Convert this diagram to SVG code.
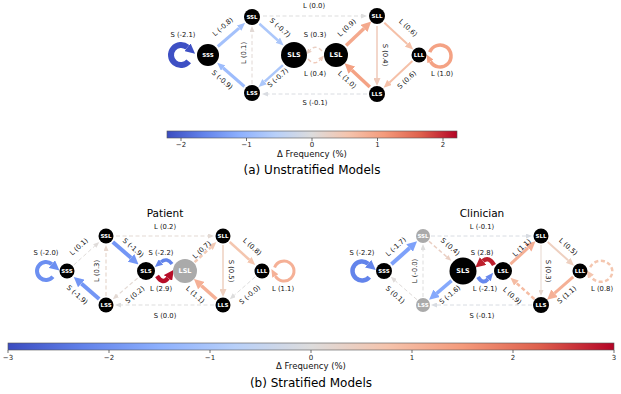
<svg xmlns="http://www.w3.org/2000/svg" width="621" height="394" viewBox="0 0 621 394">
<style>
.lbl{font-family:"DejaVu Sans",sans-serif;font-size:6.8px;fill:#111;text-anchor:middle;dominant-baseline:central}
.nl{font-family:"DejaVu Sans",sans-serif;font-weight:bold;font-size:5.5px;fill:#fff;text-anchor:middle;dominant-baseline:central}
.nlb{font-size:6.5px}
.e{fill:none}
.d{stroke-dasharray:4 2.5}
.tk{stroke:#333;stroke-width:0.7}
.tl{font-family:"DejaVu Sans",sans-serif;font-size:7px;fill:#222;text-anchor:middle;dominant-baseline:central}
.cb{font-family:"DejaVu Sans",sans-serif;font-size:8.5px;fill:#111;text-anchor:middle;dominant-baseline:central}
.ttl{font-family:"DejaVu Sans",sans-serif;font-size:12px;fill:#000;text-anchor:middle;dominant-baseline:central}
.sub{font-family:"DejaVu Sans",sans-serif;font-size:10.5px;fill:#000;text-anchor:middle;dominant-baseline:central}
</style>
<defs>
<linearGradient id="cw" x1="0" y1="0" x2="1" y2="0">
<stop offset="0" stop-color="#3b4cc0"/><stop offset="0.125" stop-color="#6282ea"/><stop offset="0.25" stop-color="#8db0fe"/><stop offset="0.375" stop-color="#b8d0f9"/><stop offset="0.5" stop-color="#dddcdc"/><stop offset="0.625" stop-color="#f5c4ad"/><stop offset="0.75" stop-color="#f49a7b"/><stop offset="0.875" stop-color="#de604d"/><stop offset="1" stop-color="#b40426"/>
</linearGradient>
<marker id="as" viewBox="0 0 6 5" refX="0" refY="2.5" markerUnits="userSpaceOnUse" markerWidth="6" markerHeight="5" orient="auto"><path d="M0,0 L6,2.5 L0,5 z" fill="context-stroke"/></marker>
<marker id="am" viewBox="0 0 8 7" refX="0" refY="3.5" markerUnits="userSpaceOnUse" markerWidth="8" markerHeight="7" orient="auto"><path d="M0,0 L8,3.5 L0,7 z" fill="context-stroke"/></marker>
<marker id="al" viewBox="0 0 10 10" refX="0" refY="5" markerUnits="userSpaceOnUse" markerWidth="10" markerHeight="10" orient="auto"><path d="M0,0 L10,5 L0,10 z" fill="context-stroke"/></marker>
</defs>
<rect width="621" height="394" fill="#fff"/>

<!-- ===== (a) Unstratified ===== -->
<g id="edges-a">
<path class="e" d="M217.8,46.5 L239.1,28.1" stroke="#a4c1fb" stroke-width="3" marker-end="url(#am)"/>
<path class="e" d="M259.4,23.7 L277.7,40.2" stroke="#acc7fa" stroke-width="2.5" marker-end="url(#am)"/>
<path class="e" d="M282.9,65.1 L264.6,81.6" stroke="#acc7fa" stroke-width="2.5" marker-end="url(#am)"/>
<path class="e" d="M244.4,86.5 L223.2,68" stroke="#9dbcfc" stroke-width="3" marker-end="url(#am)"/>
<path class="e d" d="M252,84 L252,32" stroke="#e1d8d4" stroke-width="1" marker-end="url(#as)"/>
<path class="e d" d="M263,16 L361,16" stroke="#dddddd" stroke-width="1" marker-end="url(#as)"/>
<path class="e d" d="M367,94 L268,94" stroke="#d9dce1" stroke-width="1" marker-end="url(#as)"/>
<path class="e d" d="M322,51 Q315.5,44 310,50" stroke="#eacfc3" stroke-width="1.5" stroke-dasharray="3 2" marker-end="url(#as)"/>
<path class="e d" d="M308,59 Q314.5,66 320,60" stroke="#efcaba" stroke-width="1.5" stroke-dasharray="3 2" marker-end="url(#as)"/>
<path class="e" d="M346.1,45.4 L364,28.4" stroke="#f4a98d" stroke-width="3.5" marker-end="url(#al)"/>
<path class="e" d="M384.3,22.8 L407.3,44.1" stroke="#f5c0a8" stroke-width="2" marker-end="url(#am)"/>
<path class="e" d="M377,26 L377,78" stroke="#efcaba" stroke-width="1.5" marker-end="url(#am)"/>
<path class="e" d="M412.4,61.1 L389.5,82.4" stroke="#f5c0a8" stroke-width="2" marker-end="url(#am)"/>
<path class="e" d="M369.8,87.1 L351.9,70.2" stroke="#f4a284" stroke-width="3.5" marker-end="url(#al)"/>
<path class="e" d="M429.7,52.2 A11,11 0 1 1 430.5,61.5" stroke="#f4a284" stroke-width="3.5" marker-end="url(#am)"/>
<path class="e" d="M188.7,61.4 A10,10 0 1 1 187.4,47.3" stroke="#3e50c4" stroke-width="6" marker-end="url(#al)"/>
</g>
<g id="a-SSS"><circle cx="208" cy="55" r="11"/><text class="nl" x="208" y="55">SSS</text></g>
<g id="a-SSL"><circle cx="252" cy="17" r="8"/><text class="nl" x="252" y="17">SSL</text></g>
<g id="a-SLS"><circle cx="294" cy="55" r="13"/><text class="nl nlb" x="294" y="55">SLS</text></g>
<g id="a-LSS"><circle cx="252" cy="93" r="8"/><text class="nl" x="252" y="93">LSS</text></g>
<g id="a-LSL"><circle cx="336" cy="55" r="12"/><text class="nl nlb" x="336" y="55">LSL</text></g>
<g id="a-SLL"><circle cx="377" cy="16" r="8"/><text class="nl" x="377" y="16">SLL</text></g>
<g id="a-LLL"><circle cx="419" cy="55" r="7.5"/><text class="nl" x="419" y="55">LLL</text></g>
<g id="a-LLS"><circle cx="377" cy="94" r="8"/><text class="nl" x="377" y="94">LLS</text></g>
<g id="labels-a">
<text class="lbl" x="183" y="35">S (-2.1)</text>
<text class="lbl" transform="translate(223,27) rotate(-41)">L (-0.8)</text>
<text class="lbl" transform="translate(244,53) rotate(-90)">L (0.1)</text>
<text class="lbl" transform="translate(280,28) rotate(42)">S (-0.7)</text>
<text class="lbl" transform="translate(222,80) rotate(41)">S (-0.9)</text>
<text class="lbl" transform="translate(278,78) rotate(-42)">S (-0.7)</text>
<text class="lbl" x="314" y="6">L (0.0)</text>
<text class="lbl" x="315" y="35">S (0.3)</text>
<text class="lbl" x="315" y="74">L (0.4)</text>
<text class="lbl" x="315" y="103">S (-0.1)</text>
<text class="lbl" transform="translate(347,28) rotate(-43)">L (0.9)</text>
<text class="lbl" transform="translate(408,28) rotate(43)">L (0.6)</text>
<text class="lbl" transform="translate(385,55) rotate(90)">S (0.4)</text>
<text class="lbl" transform="translate(407,80) rotate(-43)">S (0.6)</text>
<text class="lbl" transform="translate(347,80) rotate(43)">L (1.0)</text>
<text class="lbl" x="442" y="74">L (1.0)</text>
</g>
<g id="colorbar-a">
<rect x="167" y="131" width="290" height="7" fill="url(#cw)" stroke="#555" stroke-width="0.6"/>
<path class="tk" d="M181,138v3M246.5,138v3M312,138v3M377.5,138v3M443,138v3"/>
<text class="tl" x="181" y="145">−2</text><text class="tl" x="246.5" y="145">−1</text><text class="tl" x="312" y="145">0</text><text class="tl" x="377.5" y="145">1</text><text class="tl" x="443" y="145">2</text>
<text class="cb" x="312" y="153.5">Δ Frequency (%)</text>
<text class="ttl" x="312" y="170">(a) Unstratified Models</text>
</g>

<!-- ===== (b) Patient ===== -->
<g id="edges-p">
<path class="e d" d="M73.7,265 L94.8,246" stroke="#dfdbd9" stroke-width="1" marker-end="url(#as)"/>
<path class="e" d="M112.8,241.9 L131,257.8" stroke="#7396f5" stroke-width="4" marker-end="url(#al)"/>
<path class="e d" d="M137.6,278.1 L117.4,295.3" stroke="#e3d9d3" stroke-width="1.2" marker-end="url(#as)"/>
<path class="e" d="M99.2,299.1 L81.3,283.5" stroke="#7396f5" stroke-width="4" marker-end="url(#al)"/>
<path class="e d" d="M106,296 L106,251" stroke="#e7d7ce" stroke-width="1.2" marker-end="url(#as)"/>
<path class="e d" d="M116,236 L208,236" stroke="#e3d9d3" stroke-width="1.2" marker-end="url(#as)"/>
<path class="e d" d="M194.6,262.2 L210.5,247.5" stroke="#f2cab5" stroke-width="2.5" marker-end="url(#am)"/>
<path class="e" d="M229.7,242 L249.3,259.7" stroke="#f4c6af" stroke-width="2.5" marker-end="url(#am)"/>
<path class="e" d="M223,245 L223,289" stroke="#eed0c0" stroke-width="1.5" marker-end="url(#am)"/>
<path class="e d" d="M255.2,276.9 L234.3,295.2" stroke="#dddddd" stroke-width="1" marker-end="url(#as)"/>
<path class="e" d="M216.3,299 L201.4,285.7" stroke="#f5b096" stroke-width="3.5" marker-end="url(#al)"/>
<path class="e d" d="M214,305 L121,305" stroke="#dddddd" stroke-width="1" marker-end="url(#as)"/>
<path class="e" d="M274.6,267.6 A10,10 0 1 1 275.3,276" stroke="#f5b096" stroke-width="3" marker-end="url(#am)"/>
<path class="e" d="M52.9,276.8 A9,9 0 1 1 51.8,264.1" stroke="#6c8ff1" stroke-width="4" marker-end="url(#al)"/>
<path class="e" d="M172,264 Q167,257 161,262" stroke="#6384eb" stroke-width="3.5" marker-end="url(#am)"/>
<path class="e" d="M157,276 Q163,285 168,278" stroke="#b70d28" stroke-width="4.5" marker-end="url(#al)"/>
</g>
<g id="p-SSS"><circle cx="67" cy="271" r="7.5"/><text class="nl" x="67" y="271">SSS</text></g>
<g id="p-SSL"><circle cx="106" cy="236" r="7.5"/><text class="nl" x="106" y="236">SSL</text></g>
<g id="p-SLS"><circle cx="146" cy="271" r="9"/><text class="nl" x="146" y="271">SLS</text></g>
<g id="p-LSS"><circle cx="106" cy="305" r="7.5"/><text class="nl" x="106" y="305">LSS</text></g>
<g id="p-LSL"><circle cx="185" cy="271" r="12" fill="#aaaaaa"/><text class="nl nlb" x="185" y="271">LSL</text></g>
<g id="p-SLL"><circle cx="223" cy="236" r="7.5"/><text class="nl" x="223" y="236">SLL</text></g>
<g id="p-LLL"><circle cx="262" cy="271" r="7.5"/><text class="nl" x="262" y="271">LLL</text></g>
<g id="p-LLS"><circle cx="223" cy="305" r="7.5"/><text class="nl" x="223" y="305">LLS</text></g>
<g id="labels-p">
<text class="sub" x="165" y="213">Patient</text>
<text class="lbl" x="165" y="227">L (0.2)</text>
<text class="lbl" x="46" y="253">S (-2.0)</text>
<text class="lbl" transform="translate(79,247) rotate(-42)">L (0.1)</text>
<text class="lbl" transform="translate(97,271) rotate(-90)">L (0.3)</text>
<text class="lbl" transform="translate(133,248) rotate(41)">S (-1.9)</text>
<text class="lbl" transform="translate(77,295) rotate(41)">S (-1.9)</text>
<text class="lbl" transform="translate(135,295) rotate(-40)">S (0.2)</text>
<text class="lbl" x="161" y="253">S (-2.2)</text>
<text class="lbl" x="161" y="289">L (2.9)</text>
<text class="lbl" transform="translate(202,250) rotate(-43)">L (0.7)</text>
<text class="lbl" transform="translate(252,247) rotate(42)">L (0.8)</text>
<text class="lbl" transform="translate(231,271) rotate(90)">S (0.5)</text>
<text class="lbl" transform="translate(195,295) rotate(42)">L (1.1)</text>
<text class="lbl" transform="translate(250,295) rotate(-41)">S (-0.0)</text>
<text class="lbl" x="283" y="289">L (1.1)</text>
<text class="lbl" x="165" y="316">S (0.0)</text>
</g>

<!-- ===== (b) Clinician ===== -->
<g id="edges-c">
<path class="e" d="M391.4,264.3 L409.6,248" stroke="#7ea1fa" stroke-width="4" marker-end="url(#al)"/>
<path class="e d" d="M429,241.3 L446.8,256.9" stroke="#eacfc3" stroke-width="1.5" marker-end="url(#as)"/>
<path class="e" d="M451.6,280.7 L436.7,293.3" stroke="#86a9fc" stroke-width="3.5" marker-end="url(#al)"/>
<path class="e d" d="M417,299.7 L395.3,280.8" stroke="#dfdbd9" stroke-width="1" marker-end="url(#as)"/>
<path class="e d" d="M423,297 L423,250" stroke="#dddddd" stroke-width="1" marker-end="url(#as)"/>
<path class="e d" d="M431,236 L526,236" stroke="#d8dce2" stroke-width="1" marker-end="url(#as)"/>
<path class="e" d="M510.4,264.2 L528.1,247.9" stroke="#f5b096" stroke-width="3" marker-end="url(#al)"/>
<path class="e" d="M547.7,242 L568.1,260.3" stroke="#eed0c0" stroke-width="2" marker-end="url(#am)"/>
<path class="e" d="M541,245 L541,290" stroke="#e7d7ce" stroke-width="1" marker-end="url(#as)"/>
<path class="e" d="M573.2,276.9 L554.6,293.2" stroke="#f5b096" stroke-width="3" marker-end="url(#al)"/>
<path class="e d" d="M534.3,299 L516.4,283" stroke="#f5bca3" stroke-width="2.5" marker-end="url(#am)"/>
<path class="e d" d="M532,305 L437,305" stroke="#d8dce2" stroke-width="1" marker-end="url(#as)"/>
<path class="e d" d="M590.2,267.3 A11.5,10.5 0 1 1 591,276.8" stroke="#f4c6af" stroke-width="2.5" marker-end="url(#am)"/>
<path class="e" d="M369.3,277.1 A9.5,9.5 0 1 1 368.1,263.7" stroke="#6384eb" stroke-width="4.5" marker-end="url(#al)"/>
<path class="e" d="M494,265 Q489,256 483,261" stroke="#bd1f2d" stroke-width="4.5" marker-end="url(#al)"/>
<path class="e" d="M478,277 Q483,285 488,279" stroke="#6788ee" stroke-width="4" marker-end="url(#am)"/>
</g>
<g id="c-SSS"><circle cx="384" cy="271" r="8"/><text class="nl" x="384" y="271">SSS</text></g>
<g id="c-SSL"><circle cx="423" cy="236" r="7" fill="#aaaaaa"/><text class="nl" x="423" y="236">SSL</text></g>
<g id="c-SLS"><circle cx="463" cy="271" r="13.5"/><text class="nl nlb" x="463" y="271">SLS</text></g>
<g id="c-LSS"><circle cx="423" cy="305" r="7" fill="#aaaaaa"/><text class="nl" x="423" y="305">LSS</text></g>
<g id="c-LSL"><circle cx="503" cy="271" r="9"/><text class="nl" x="503" y="271">LSL</text></g>
<g id="c-SLL"><circle cx="541" cy="236" r="7.5"/><text class="nl" x="541" y="236">SLL</text></g>
<g id="c-LLL"><circle cx="580" cy="271" r="7.5"/><text class="nl" x="580" y="271">LLL</text></g>
<g id="c-LLS"><circle cx="541" cy="305" r="8"/><text class="nl" x="541" y="305">LLS</text></g>
<g id="labels-c">
<text class="sub" x="482" y="213">Clinician</text>
<text class="lbl" x="482" y="227">L (-0.1)</text>
<text class="lbl" x="362" y="253">S (-2.2)</text>
<text class="lbl" transform="translate(396,247) rotate(-42)">L (-1.7)</text>
<text class="lbl" transform="translate(415,271) rotate(-90)">L (-0.0)</text>
<text class="lbl" transform="translate(450,247) rotate(41)">S (0.4)</text>
<text class="lbl" transform="translate(395,295) rotate(41)">S (0.1)</text>
<text class="lbl" transform="translate(450,295) rotate(-40)">S (-1.6)</text>
<text class="lbl" x="482" y="253">S (2.8)</text>
<text class="lbl" x="485" y="289">L (-2.1)</text>
<text class="lbl" transform="translate(522,248) rotate(-43)">L (1.1)</text>
<text class="lbl" transform="translate(568,247) rotate(42)">L (0.5)</text>
<text class="lbl" transform="translate(548,271) rotate(90)">S (0.3)</text>
<text class="lbl" transform="translate(512,296) rotate(42)">L (0.9)</text>
<text class="lbl" transform="translate(567,295) rotate(-41)">S (1.1)</text>
<text class="lbl" x="602" y="289">L (0.8)</text>
<text class="lbl" x="482" y="316">S (-0.1)</text>
</g>

<g id="colorbar-b">
<rect x="8" y="343" width="606" height="7" fill="url(#cw)" stroke="#555" stroke-width="0.6"/>
<path class="tk" d="M8,350v3M109,350v3M210,350v3M311,350v3M412,350v3M513,350v3M614,350v3"/>
<text class="tl" x="8" y="357.5">−3</text><text class="tl" x="109" y="357.5">−2</text><text class="tl" x="210" y="357.5">−1</text><text class="tl" x="311" y="357.5">0</text><text class="tl" x="412" y="357.5">1</text><text class="tl" x="513" y="357.5">2</text><text class="tl" x="614" y="357.5">3</text>
<text class="cb" x="311" y="366">Δ Frequency (%)</text>
<text class="ttl" x="311" y="383">(b) Stratified Models</text>
</g>
</svg>
